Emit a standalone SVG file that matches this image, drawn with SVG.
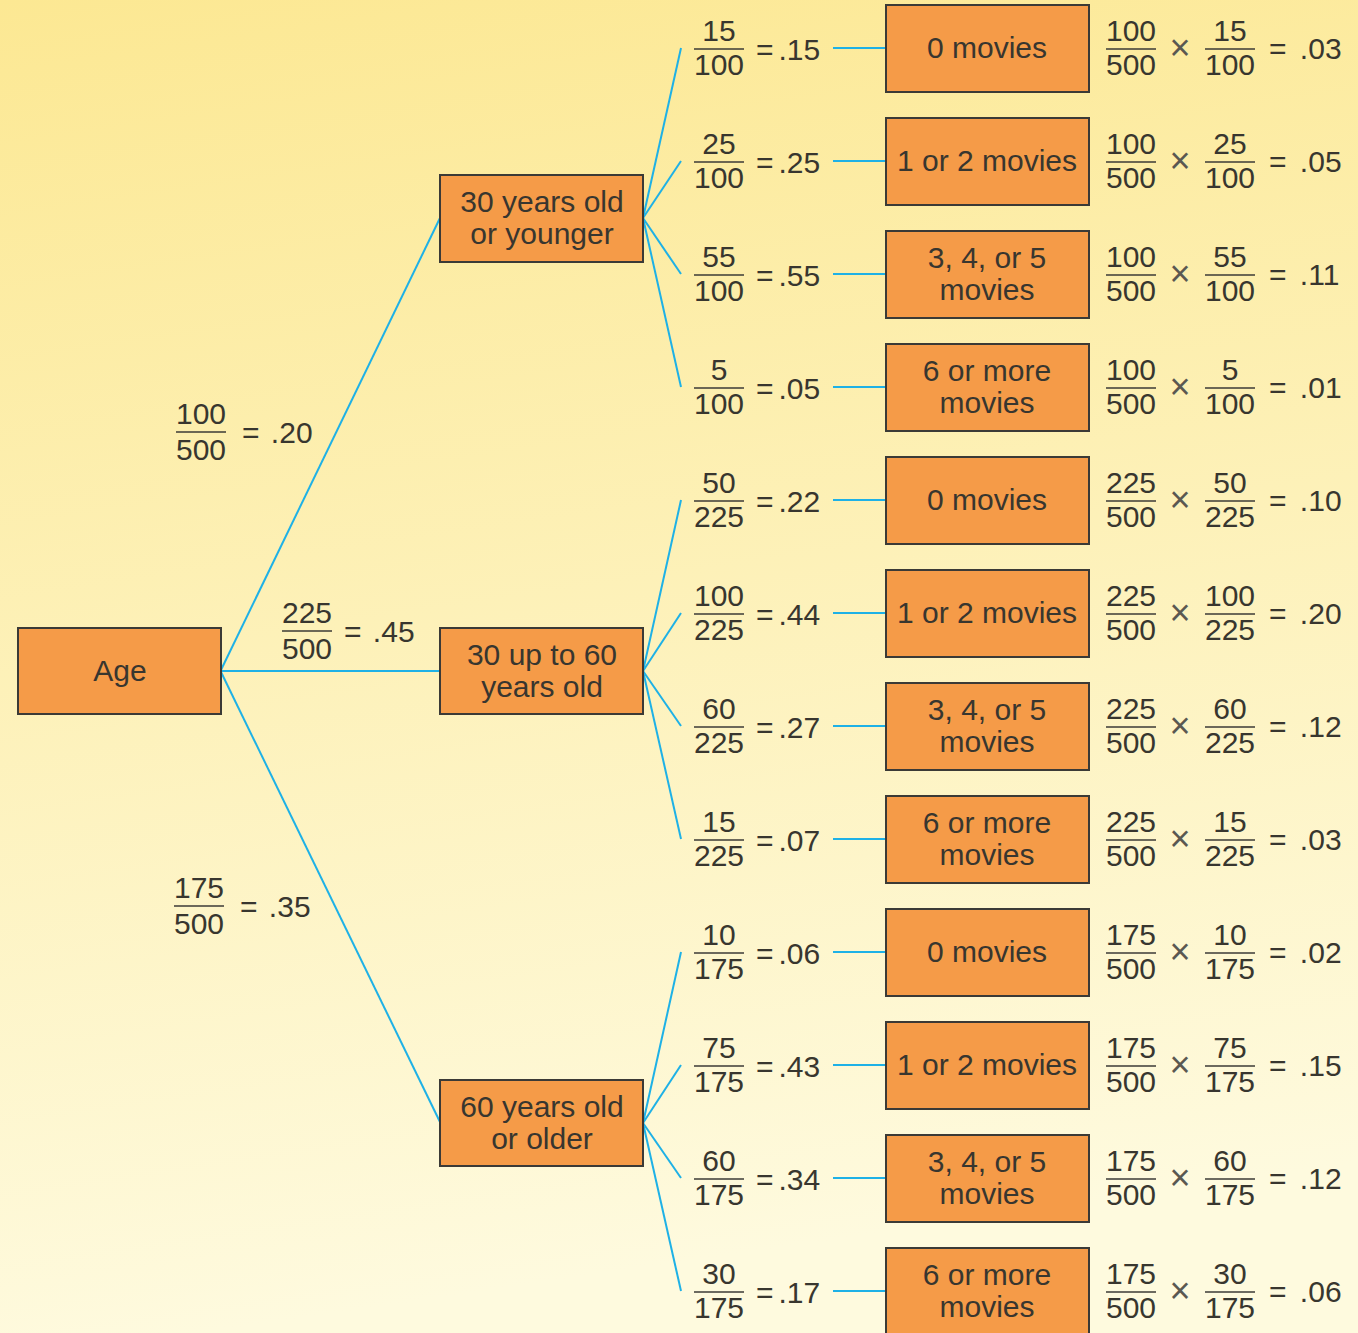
<svg xmlns="http://www.w3.org/2000/svg" width="1358" height="1333" viewBox="0 0 1358 1333">
<defs>
<linearGradient id="bg" x1="0" y1="0" x2="0.15" y2="1">
<stop offset="0" stop-color="#fce893"/>
<stop offset="1" stop-color="#fefade"/>
</linearGradient>
<style>
.box{fill:#f59b48;stroke:#3b3a36;stroke-width:2}
.ln{stroke:#1eb1e6;stroke-width:2;fill:none}
.bar{stroke:#3b3a36;stroke-width:1.6}
text{font-family:"Liberation Sans",Arial,sans-serif;font-size:30px;fill:#38362f}
.m{text-anchor:middle}
.x{font-size:36px;fill:#5a5851}
</style>
</defs>
<rect width="1358" height="1333" fill="url(#bg)"/>

<g id="connectors">
<line class="ln" x1="221" y1="670" x2="440" y2="218"/>
<line class="ln" x1="221" y1="671" x2="440" y2="671"/>
<line class="ln" x1="221" y1="672" x2="440" y2="1122"/>
<line class="ln" x1="643" y1="218" x2="681" y2="48"/>
<line class="ln" x1="643" y1="218" x2="681" y2="161"/>
<line class="ln" x1="643" y1="218" x2="681" y2="274"/>
<line class="ln" x1="643" y1="218" x2="681" y2="387"/>
<line class="ln" x1="643" y1="671" x2="681" y2="500"/>
<line class="ln" x1="643" y1="671" x2="681" y2="613"/>
<line class="ln" x1="643" y1="671" x2="681" y2="726"/>
<line class="ln" x1="643" y1="671" x2="681" y2="839"/>
<line class="ln" x1="643" y1="1123" x2="681" y2="952"/>
<line class="ln" x1="643" y1="1123" x2="681" y2="1065"/>
<line class="ln" x1="643" y1="1123" x2="681" y2="1178"/>
<line class="ln" x1="643" y1="1123" x2="681" y2="1291"/>
<line class="ln" x1="833" y1="48" x2="886" y2="48"/>
<line class="ln" x1="833" y1="161" x2="886" y2="161"/>
<line class="ln" x1="833" y1="274" x2="886" y2="274"/>
<line class="ln" x1="833" y1="387" x2="886" y2="387"/>
<line class="ln" x1="833" y1="500" x2="886" y2="500"/>
<line class="ln" x1="833" y1="613" x2="886" y2="613"/>
<line class="ln" x1="833" y1="726" x2="886" y2="726"/>
<line class="ln" x1="833" y1="839" x2="886" y2="839"/>
<line class="ln" x1="833" y1="952" x2="886" y2="952"/>
<line class="ln" x1="833" y1="1065" x2="886" y2="1065"/>
<line class="ln" x1="833" y1="1178" x2="886" y2="1178"/>
<line class="ln" x1="833" y1="1291" x2="886" y2="1291"/>
</g>

<g id="age-labels">
<text class="m" x="201" y="424">100</text><line class="bar" x1="176" y1="432" x2="226" y2="432"/><text class="m" x="201" y="460">500</text><text x="242" y="443">=<tspan dx="3"> .20</tspan></text>
<text class="m" x="307" y="623">225</text><line class="bar" x1="282" y1="631" x2="332" y2="631"/><text class="m" x="307" y="659">500</text><text x="344" y="642">=<tspan dx="3"> .45</tspan></text>
<text class="m" x="199" y="898">175</text><line class="bar" x1="174" y1="906" x2="224" y2="906"/><text class="m" x="199" y="934">500</text><text x="240" y="917">=<tspan dx="3"> .35</tspan></text>
</g>

<g id="age"><rect class="box" x="18" y="628" width="203" height="86"/><text class="m" x="120" y="681">Age</text></g>
<g id="young"><rect class="box" x="440" y="175" width="203" height="87"/><text class="m" x="542" y="212">30 years old</text><text class="m" x="542" y="244">or younger</text></g>
<g id="middle"><rect class="box" x="440" y="628" width="203" height="86"/><text class="m" x="542" y="665">30 up to 60</text><text class="m" x="542" y="697">years old</text></g>
<g id="old"><rect class="box" x="440" y="1080" width="203" height="86"/><text class="m" x="542" y="1117">60 years old</text><text class="m" x="542" y="1149">or older</text></g>

<g id="row0"><text class="m" x="719" y="41">15</text><line class="bar" x1="694" y1="49" x2="744" y2="49"/><text class="m" x="719" y="75">100</text><text x="756" y="60">=<tspan dx="5">.15</tspan></text>
<rect class="box" x="886" y="5" width="203" height="87"/><text class="m" x="987" y="58">0 movies</text>
<text class="m" x="1131" y="41">100</text><line class="bar" x1="1106" y1="49" x2="1156" y2="49"/><text class="m" x="1131" y="75">500</text><text class="m x" x="1180" y="60">×</text>
<text class="m" x="1230" y="41">15</text><line class="bar" x1="1205" y1="49" x2="1255" y2="49"/><text class="m" x="1230" y="75">100</text><text x="1269" y="59">=<tspan dx="5"> .03</tspan></text></g>

<g id="row1"><text class="m" x="719" y="154">25</text><line class="bar" x1="694" y1="162" x2="744" y2="162"/><text class="m" x="719" y="188">100</text><text x="756" y="173">=<tspan dx="5">.25</tspan></text>
<rect class="box" x="886" y="118" width="203" height="87"/><text class="m" x="987" y="171">1 or 2 movies</text>
<text class="m" x="1131" y="154">100</text><line class="bar" x1="1106" y1="162" x2="1156" y2="162"/><text class="m" x="1131" y="188">500</text><text class="m x" x="1180" y="173">×</text>
<text class="m" x="1230" y="154">25</text><line class="bar" x1="1205" y1="162" x2="1255" y2="162"/><text class="m" x="1230" y="188">100</text><text x="1269" y="172">=<tspan dx="5"> .05</tspan></text></g>

<g id="row2"><text class="m" x="719" y="267">55</text><line class="bar" x1="694" y1="275" x2="744" y2="275"/><text class="m" x="719" y="301">100</text><text x="756" y="286">=<tspan dx="5">.55</tspan></text>
<rect class="box" x="886" y="231" width="203" height="87"/><text class="m" x="987" y="268">3, 4, or 5</text><text class="m" x="987" y="300">movies</text>
<text class="m" x="1131" y="267">100</text><line class="bar" x1="1106" y1="275" x2="1156" y2="275"/><text class="m" x="1131" y="301">500</text><text class="m x" x="1180" y="286">×</text>
<text class="m" x="1230" y="267">55</text><line class="bar" x1="1205" y1="275" x2="1255" y2="275"/><text class="m" x="1230" y="301">100</text><text x="1269" y="285">=<tspan dx="5"> .11</tspan></text></g>

<g id="row3"><text class="m" x="719" y="380">5</text><line class="bar" x1="694" y1="388" x2="744" y2="388"/><text class="m" x="719" y="414">100</text><text x="756" y="399">=<tspan dx="5">.05</tspan></text>
<rect class="box" x="886" y="344" width="203" height="87"/><text class="m" x="987" y="381">6 or more</text><text class="m" x="987" y="413">movies</text>
<text class="m" x="1131" y="380">100</text><line class="bar" x1="1106" y1="388" x2="1156" y2="388"/><text class="m" x="1131" y="414">500</text><text class="m x" x="1180" y="399">×</text>
<text class="m" x="1230" y="380">5</text><line class="bar" x1="1205" y1="388" x2="1255" y2="388"/><text class="m" x="1230" y="414">100</text><text x="1269" y="398">=<tspan dx="5"> .01</tspan></text></g>

<g id="row4"><text class="m" x="719" y="493">50</text><line class="bar" x1="694" y1="501" x2="744" y2="501"/><text class="m" x="719" y="527">225</text><text x="756" y="512">=<tspan dx="5">.22</tspan></text>
<rect class="box" x="886" y="457" width="203" height="87"/><text class="m" x="987" y="510">0 movies</text>
<text class="m" x="1131" y="493">225</text><line class="bar" x1="1106" y1="501" x2="1156" y2="501"/><text class="m" x="1131" y="527">500</text><text class="m x" x="1180" y="512">×</text>
<text class="m" x="1230" y="493">50</text><line class="bar" x1="1205" y1="501" x2="1255" y2="501"/><text class="m" x="1230" y="527">225</text><text x="1269" y="511">=<tspan dx="5"> .10</tspan></text></g>

<g id="row5"><text class="m" x="719" y="606">100</text><line class="bar" x1="694" y1="614" x2="744" y2="614"/><text class="m" x="719" y="640">225</text><text x="756" y="625">=<tspan dx="5">.44</tspan></text>
<rect class="box" x="886" y="570" width="203" height="87"/><text class="m" x="987" y="623">1 or 2 movies</text>
<text class="m" x="1131" y="606">225</text><line class="bar" x1="1106" y1="614" x2="1156" y2="614"/><text class="m" x="1131" y="640">500</text><text class="m x" x="1180" y="625">×</text>
<text class="m" x="1230" y="606">100</text><line class="bar" x1="1205" y1="614" x2="1255" y2="614"/><text class="m" x="1230" y="640">225</text><text x="1269" y="624">=<tspan dx="5"> .20</tspan></text></g>

<g id="row6"><text class="m" x="719" y="719">60</text><line class="bar" x1="694" y1="727" x2="744" y2="727"/><text class="m" x="719" y="753">225</text><text x="756" y="738">=<tspan dx="5">.27</tspan></text>
<rect class="box" x="886" y="683" width="203" height="87"/><text class="m" x="987" y="720">3, 4, or 5</text><text class="m" x="987" y="752">movies</text>
<text class="m" x="1131" y="719">225</text><line class="bar" x1="1106" y1="727" x2="1156" y2="727"/><text class="m" x="1131" y="753">500</text><text class="m x" x="1180" y="738">×</text>
<text class="m" x="1230" y="719">60</text><line class="bar" x1="1205" y1="727" x2="1255" y2="727"/><text class="m" x="1230" y="753">225</text><text x="1269" y="737">=<tspan dx="5"> .12</tspan></text></g>

<g id="row7"><text class="m" x="719" y="832">15</text><line class="bar" x1="694" y1="840" x2="744" y2="840"/><text class="m" x="719" y="866">225</text><text x="756" y="851">=<tspan dx="5">.07</tspan></text>
<rect class="box" x="886" y="796" width="203" height="87"/><text class="m" x="987" y="833">6 or more</text><text class="m" x="987" y="865">movies</text>
<text class="m" x="1131" y="832">225</text><line class="bar" x1="1106" y1="840" x2="1156" y2="840"/><text class="m" x="1131" y="866">500</text><text class="m x" x="1180" y="851">×</text>
<text class="m" x="1230" y="832">15</text><line class="bar" x1="1205" y1="840" x2="1255" y2="840"/><text class="m" x="1230" y="866">225</text><text x="1269" y="850">=<tspan dx="5"> .03</tspan></text></g>

<g id="row8"><text class="m" x="719" y="945">10</text><line class="bar" x1="694" y1="953" x2="744" y2="953"/><text class="m" x="719" y="979">175</text><text x="756" y="964">=<tspan dx="5">.06</tspan></text>
<rect class="box" x="886" y="909" width="203" height="87"/><text class="m" x="987" y="962">0 movies</text>
<text class="m" x="1131" y="945">175</text><line class="bar" x1="1106" y1="953" x2="1156" y2="953"/><text class="m" x="1131" y="979">500</text><text class="m x" x="1180" y="964">×</text>
<text class="m" x="1230" y="945">10</text><line class="bar" x1="1205" y1="953" x2="1255" y2="953"/><text class="m" x="1230" y="979">175</text><text x="1269" y="963">=<tspan dx="5"> .02</tspan></text></g>

<g id="row9"><text class="m" x="719" y="1058">75</text><line class="bar" x1="694" y1="1066" x2="744" y2="1066"/><text class="m" x="719" y="1092">175</text><text x="756" y="1077">=<tspan dx="5">.43</tspan></text>
<rect class="box" x="886" y="1022" width="203" height="87"/><text class="m" x="987" y="1075">1 or 2 movies</text>
<text class="m" x="1131" y="1058">175</text><line class="bar" x1="1106" y1="1066" x2="1156" y2="1066"/><text class="m" x="1131" y="1092">500</text><text class="m x" x="1180" y="1077">×</text>
<text class="m" x="1230" y="1058">75</text><line class="bar" x1="1205" y1="1066" x2="1255" y2="1066"/><text class="m" x="1230" y="1092">175</text><text x="1269" y="1076">=<tspan dx="5"> .15</tspan></text></g>

<g id="row10"><text class="m" x="719" y="1171">60</text><line class="bar" x1="694" y1="1179" x2="744" y2="1179"/><text class="m" x="719" y="1205">175</text><text x="756" y="1190">=<tspan dx="5">.34</tspan></text>
<rect class="box" x="886" y="1135" width="203" height="87"/><text class="m" x="987" y="1172">3, 4, or 5</text><text class="m" x="987" y="1204">movies</text>
<text class="m" x="1131" y="1171">175</text><line class="bar" x1="1106" y1="1179" x2="1156" y2="1179"/><text class="m" x="1131" y="1205">500</text><text class="m x" x="1180" y="1190">×</text>
<text class="m" x="1230" y="1171">60</text><line class="bar" x1="1205" y1="1179" x2="1255" y2="1179"/><text class="m" x="1230" y="1205">175</text><text x="1269" y="1189">=<tspan dx="5"> .12</tspan></text></g>

<g id="row11"><text class="m" x="719" y="1284">30</text><line class="bar" x1="694" y1="1292" x2="744" y2="1292"/><text class="m" x="719" y="1318">175</text><text x="756" y="1303">=<tspan dx="5">.17</tspan></text>
<rect class="box" x="886" y="1248" width="203" height="90"/><text class="m" x="987" y="1285">6 or more</text><text class="m" x="987" y="1317">movies</text>
<text class="m" x="1131" y="1284">175</text><line class="bar" x1="1106" y1="1292" x2="1156" y2="1292"/><text class="m" x="1131" y="1318">500</text><text class="m x" x="1180" y="1303">×</text>
<text class="m" x="1230" y="1284">30</text><line class="bar" x1="1205" y1="1292" x2="1255" y2="1292"/><text class="m" x="1230" y="1318">175</text><text x="1269" y="1302">=<tspan dx="5"> .06</tspan></text></g>
</svg>
